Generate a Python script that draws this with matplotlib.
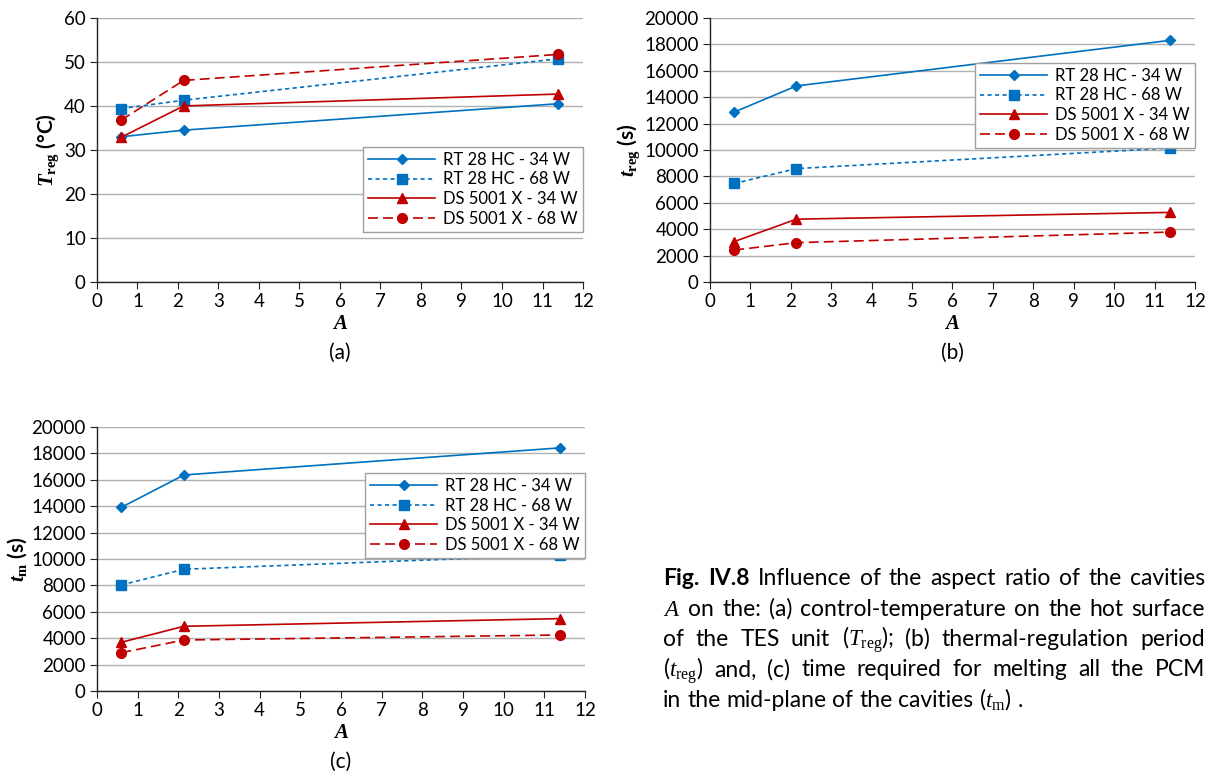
import matplotlib
matplotlib.use("Agg")
import matplotlib.pyplot as plt

plt.rcParams['font.family'] = ['Lato', 'DejaVu Sans']
plt.rcParams['mathtext.fontset'] = 'custom'
plt.rcParams['mathtext.rm'] = 'Liberation Serif'
plt.rcParams['mathtext.it'] = 'Liberation Serif:italic'
plt.rcParams['mathtext.bf'] = 'Liberation Serif:bold'
plt.rcParams['mathtext.bfit'] = 'Liberation Serif:bold:italic'

# ---- data ----
A = [0.6, 2.14, 11.38]
series_names = ["RT 28 HC - 34 W", "RT 28 HC - 68 W", "DS 5001 X - 34 W", "DS 5001 X - 68 W"]

T_reg_RT34 = [33.0, 34.5, 40.5]
T_reg_RT68 = [39.4, 41.3, 50.7]
T_reg_DS34 = [32.9, 40.0, 42.7]
T_reg_DS68 = [36.8, 45.8, 51.7]

t_reg_RT34 = [12870, 14850, 18300]
t_reg_RT68 = [7460, 8590, 10140]
t_reg_DS34 = [3060, 4760, 5270]
t_reg_DS68 = [2420, 2980, 3780]

t_m_RT34 = [13910, 16360, 18410]
t_m_RT68 = [8030, 9220, 10300]
t_m_DS34 = [3690, 4900, 5480]
t_m_DS68 = [2900, 3860, 4240]

x_ticks = list(range(0, 13))
yticks_a = list(range(0, 61, 10))
yticks_bc = list(range(0, 20001, 2000))

BLUE = "#0070C0"
RED = "#C00000"
styles = [
    dict(color=BLUE, linestyle='-', marker='D', markersize=5.5, linewidth=1.2),
    dict(color=BLUE, linestyle=(0, (2.5, 2)), marker='s', markersize=7, linewidth=1.2),
    dict(color=RED, linestyle='-', marker='^', markersize=7, linewidth=1.2),
    dict(color=RED, linestyle=(0, (6, 3)), marker='o', markersize=7, linewidth=1.2),
]

fig = plt.figure(figsize=(12.23, 7.79), dpi=100)

def panel(rect, ys, yticks, ylabel, leg_loc, leg_anchor, sub):
    ax = fig.add_axes(rect)
    for y, st, nm in zip(ys, styles, series_names):
        ax.plot(A, y, label=nm, **st)
    ax.set_xlim(0, 12)
    ax.set_ylim(yticks[0], yticks[-1])
    ax.set_xticks(x_ticks)
    ax.set_yticks(yticks)
    ax.grid(axis='y', color='#b0b0b0', linewidth=1.0)
    ax.set_axisbelow(True)
    for s in ['top', 'right']:
        ax.spines[s].set_visible(False)
    for s in ['left', 'bottom']:
        ax.spines[s].set_color('#222222')
        ax.spines[s].set_linewidth(1.0)
    ax.tick_params(axis='both', labelsize=13.5, length=5, color='#222222', direction='out', pad=3)
    ax.set_xlabel(r'$\mathbfit{A}$', fontsize=15, labelpad=2)
    ax.set_ylabel(ylabel, fontsize=15, fontweight='bold', labelpad=2)
    leg = ax.legend(loc=leg_loc, bbox_to_anchor=leg_anchor, fontsize=12, handlelength=4.0,
                    handletextpad=0.5, borderpad=0.3, labelspacing=0.22, fancybox=False,
                    framealpha=1.0, edgecolor='#a0a0a0', borderaxespad=0)
    leg.get_frame().set_linewidth(1.0)
    ax.text(0.5, -0.27, sub, transform=ax.transAxes, ha='center', va='center', fontsize=15)
    return ax

panel([0.0793, 0.638, 0.3974, 0.339],
      [T_reg_RT34, T_reg_RT68, T_reg_DS34, T_reg_DS68], yticks_a,
      r'$\mathbfit{T}_{\mathbf{reg}}$ (°C)', 'lower right', (1.0, 0.19), '(a)')
panel([0.5805, 0.638, 0.3966, 0.339],
      [t_reg_RT34, t_reg_RT68, t_reg_DS34, t_reg_DS68], yticks_bc,
      r'$\mathbfit{t}_{\mathbf{reg}}$ (s)', 'upper right', (1.0, 0.83), '(b)')
panel([0.0793, 0.113, 0.399, 0.339],
      [t_m_RT34, t_m_RT68, t_m_DS34, t_m_DS68], yticks_bc,
      r'$\mathbfit{t}_{\mathbf{m}}$ (s)', 'upper right', (1.0, 0.826), '(c)')

# ---- caption (justified) ----
cap_lines = [
    [("Fig.", 'bold'), ("IV.8", 'bold'), ("Influence", 'normal'), ("of", 'normal'), ("the", 'normal'),
     ("aspect", 'normal'), ("ratio", 'normal'), ("of", 'normal'), ("the", 'normal'), ("cavities", 'normal')],
    [(r"$A$", 'normal'), ("on", 'normal'), ("the:", 'normal'), ("(a)", 'normal'), ("control-temperature", 'normal'),
     ("on", 'normal'), ("the", 'normal'), ("hot", 'normal'), ("surface", 'normal')],
    [("of", 'normal'), ("the", 'normal'), ("TES", 'normal'), ("unit", 'normal'), (r"($T_{\mathrm{reg}}$);", 'normal'),
     ("(b)", 'normal'), ("thermal-regulation", 'normal'), ("period", 'normal')],
    [(r"($t_{\mathrm{reg}}$)", 'normal'), ("and,", 'normal'), ("(c)", 'normal'), ("time", 'normal'),
     ("required", 'normal'), ("for", 'normal'), ("melting", 'normal'), ("all", 'normal'), ("the", 'normal'),
     ("PCM", 'normal')],
    [("in", 'normal'), ("the", 'normal'), ("mid-plane", 'normal'), ("of", 'normal'), ("the", 'normal'),
     ("cavities", 'normal'), (r"($t_{\mathrm{m}}$)", 'normal'), (".", 'normal')],
]
x0_px, x1_px = 663, 1205
base0_px, step_px = 585, 30.5
W, H = 1223, 779
renderer = fig.canvas.get_renderer()
cap_fs = 16.5
for i, words in enumerate(cap_lines):
    yb = 1 - (base0_px + i * step_px) / H
    texts = []
    widths = []
    for w, wt in words:
        t = fig.text(0, yb, w, fontsize=cap_fs, fontweight=wt, va='baseline', ha='left')
        texts.append(t)
        widths.append(t.get_window_extent(renderer).width)
    total = sum(widths)
    sp = fig.text(0, 0, "a a", fontsize=cap_fs)
    sp2 = fig.text(0, 0, "aa", fontsize=cap_fs)
    nat_gap = sp.get_window_extent(renderer).width - sp2.get_window_extent(renderer).width
    sp.remove(); sp2.remove()
    if i < len(cap_lines) - 1:
        gap = (x1_px - x0_px - total) / (len(words) - 1)
    else:
        gap = nat_gap
    x = x0_px
    for t, wd in zip(texts, widths):
        t.set_x(x / W)
        x += wd + gap

fig.savefig("out.png", dpi=100)
